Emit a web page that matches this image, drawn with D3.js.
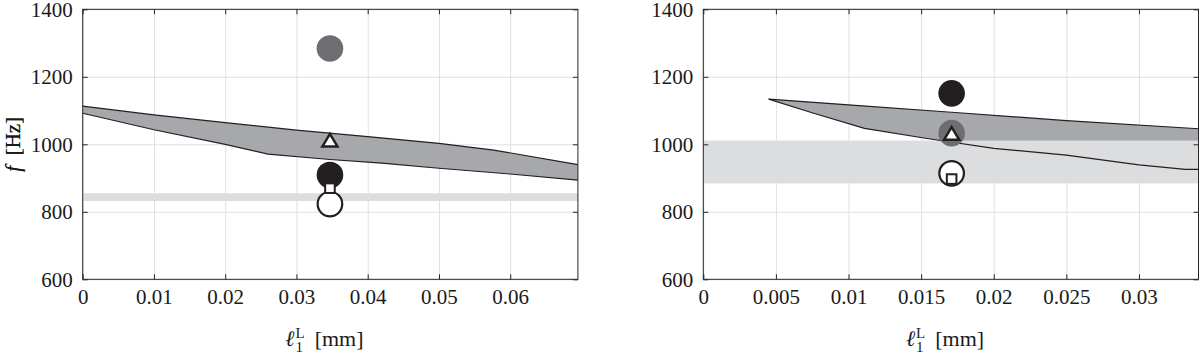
<!DOCTYPE html>
<html>
<head>
<meta charset="utf-8">
<script src="https://cdn.jsdelivr.net/npm/d3@7"></script>
<style>
  body { margin: 0; background: #fff; }
  svg { display: block; }
  .axis path, .axis line { stroke: #262626; }
  .grid line { stroke: #e0e0e0; }
  .grid path { display: none; }
</style>
</head>
<body>
<svg id="chart" width="1200" height="353"></svg>
<script>
// axis ticks
let yTicks = [600, 800, 1000, 1200, 1400];
let leftXTicks = [0, 0.01, 0.02, 0.03, 0.04, 0.05, 0.06];
let rightXTicks = [0, 0.005, 0.01, 0.015, 0.02, 0.025, 0.03];
let leftXMax = 0.0695, rightXMax = 0.0341;

// frequency band (upper / lower edge), left panel
let leftUpperX = [0, 0.01, 0.02, 0.03, 0.04, 0.05, 0.0577, 0.0695];
let leftUpperF = [1113, 1087, 1064, 1042, 1023, 1003, 983, 940];
let leftLowerX = [0, 0.01, 0.02, 0.026, 0.0347, 0.042, 0.05, 0.06, 0.0695];
let leftLowerF = [1092, 1043, 1000, 971, 955, 944, 929, 912, 894];

// frequency band, right panel
let rightUpperX = [0.0045, 0.01, 0.0171, 0.025, 0.0341];
let rightUpperF = [1134, 1117, 1095, 1070, 1046];
let rightLowerX = [0.0045, 0.0076, 0.0111, 0.0153, 0.02, 0.025, 0.03, 0.0332, 0.0341];
let rightLowerF = [1134, 1092, 1047, 1018, 988, 968, 939, 926, 926];

// light horizontal range
let leftRange = [832, 855];
let rightRange = [884, 1011];

// markers (same x inside a panel)
let markerKinds = ["grayDot", "blackDot", "whiteDot", "square", "triangle"];
let leftMarkerX = 0.0347, rightMarkerX = 0.0171;
let leftMarkerF = [1284, 909, 823, 870, 1006];
let rightMarkerF = [1033, 1151, 914, 897, 1026];

let svg = d3.select("#chart");
let panelW = 495.2, panelH = 270, panelTop = 9.3;
let serif = "Liberation Serif";

drawPanel(82.7, leftXTicks, leftXMax, leftUpperX, leftUpperF, leftLowerX, leftLowerF, leftRange, leftMarkerX, leftMarkerF);
drawPanel(703.3, rightXTicks, rightXMax, rightUpperX, rightUpperF, rightLowerX, rightLowerF, rightRange, rightMarkerX, rightMarkerF);

function drawPanel(left, xTicks, xMax, upX, upF, loX, loF, range, mX, mF) {
    let g = svg.append("g").attr("transform", "translate(" + left + "," + panelTop + ")");
    let x = d3.scaleLinear().domain([0, xMax]).range([0, panelW]);
    let y = d3.scaleLinear().domain([600, 1400]).range([panelH, 0]);

    // grid
    g.append("g").attr("class", "grid")
        .attr("transform", "translate(0," + panelH + ")")
        .call(d3.axisBottom(x).tickValues(xTicks).tickSize(-panelH).tickFormat(""));
    g.append("g").attr("class", "grid")
        .call(d3.axisLeft(y).tickValues(yTicks).tickSize(-panelW).tickFormat(""));

    // band polygon
    let upper = upX.map((d, i) => [d, upF[i]]);
    let lower = loX.map((d, i) => [d, loF[i]]);
    let line = d3.line().x(d => x(d[0])).y(d => y(d[1]));
    g.append("path")
        .attr("d", line(upper.concat(lower.slice().reverse())) + "Z")
        .attr("fill", "#a7a8ab");

    // light range
    g.append("rect")
        .attr("x", 0).attr("width", panelW)
        .attr("y", y(range[1])).attr("height", y(range[0]) - y(range[1]))
        .attr("fill", "#dcdddf");

    g.append("path").attr("d", line(upper)).attr("fill", "none").attr("stroke", "#231f20").attr("stroke-width", 1.2);
    g.append("path").attr("d", line(lower)).attr("fill", "none").attr("stroke", "#231f20").attr("stroke-width", 1.2);

    // markers
    let cx = x(mX);
    markerKinds.forEach(function (k, i) {
        let cy = y(mF[i]);
        if (k === "grayDot") {
            g.append("circle").attr("cx", cx).attr("cy", cy).attr("r", 13.3).attr("fill", "#6d6e71");
        } else if (k === "blackDot") {
            g.append("circle").attr("cx", cx).attr("cy", cy).attr("r", 13.3).attr("fill", "#231f20");
        } else if (k === "whiteDot") {
            g.append("circle").attr("cx", cx).attr("cy", cy).attr("r", 12.3)
                .attr("fill", "#fff").attr("stroke", "#231f20").attr("stroke-width", 2.2);
        } else if (k === "square") {
            g.append("rect").attr("x", cx - 4.8).attr("y", cy - 4.8).attr("width", 9.6).attr("height", 9.6)
                .attr("fill", "#fff").attr("stroke", "#231f20").attr("stroke-width", 2);
        } else {
            let h = 12.5, w = 15;
            g.append("path")
                .attr("d", "M" + cx + "," + (cy - h * 2 / 3) + "L" + (cx + w / 2) + "," + (cy + h / 3) +
                    "L" + (cx - w / 2) + "," + (cy + h / 3) + "Z")
                .attr("fill", "#fff").attr("stroke", "#231f20").attr("stroke-width", 2.5)
                .attr("stroke-linejoin", "miter");
        }
    });

    // axes with inner ticks
    g.append("g").attr("class", "axis")
        .attr("transform", "translate(0," + panelH + ")")
        .call(d3.axisBottom(x).tickValues(xTicks).tickSizeInner(-5).tickSizeOuter(0).tickPadding(10).tickFormat(d => String(d)));
    g.append("g").attr("class", "axis")
        .call(d3.axisLeft(y).tickValues(yTicks).tickSizeInner(-5).tickSizeOuter(0).tickPadding(10).tickFormat(d => String(d)));
    g.append("g").attr("class", "axis")
        .call(d3.axisTop(x).tickValues(xTicks).tickSizeInner(-5).tickSizeOuter(0).tickFormat(""));
    g.append("g").attr("class", "axis")
        .attr("transform", "translate(" + panelW + ",0)")
        .call(d3.axisRight(y).tickValues(yTicks).tickSizeInner(-5).tickSizeOuter(0).tickFormat(""));
    g.selectAll(".axis .domain").remove();
    g.selectAll(".axis text")
        .attr("font-family", serif).attr("font-size", 21).attr("fill", "#1a1a1a");
    g.append("rect").attr("width", panelW).attr("height", panelH)
        .attr("fill", "none").attr("stroke", "#262626").attr("stroke-width", 1);

    // y title
    let yt = g.append("text")
        .attr("transform", "translate(" + (20 - left) + "," + (panelH / 2) + ") rotate(-90)")
        .attr("text-anchor", "middle")
        .attr("font-family", serif).attr("font-size", 21).attr("fill", "#1a1a1a");
    yt.append("tspan").attr("font-style", "italic").text("f");
    yt.append("tspan").text("\u2002[Hz]");

    // x title
    let xt = g.append("text")
        .attr("x", panelW / 2 - 45).attr("y", 337)
        .attr("font-family", serif).attr("font-size", 22).attr("fill", "#1a1a1a");
    xt.append("tspan").attr("font-style", "italic").text("\u2113");
    xt.append("tspan").attr("dx", 1).attr("dy", 6).attr("font-size", 15).text("1");
    xt.append("tspan").attr("dx", -7.5).attr("dy", -14).attr("font-size", 15).text("L");
    xt.append("tspan").attr("dx", 10).attr("dy", 8).text("[mm]");
}
</script>
</body>
</html>
